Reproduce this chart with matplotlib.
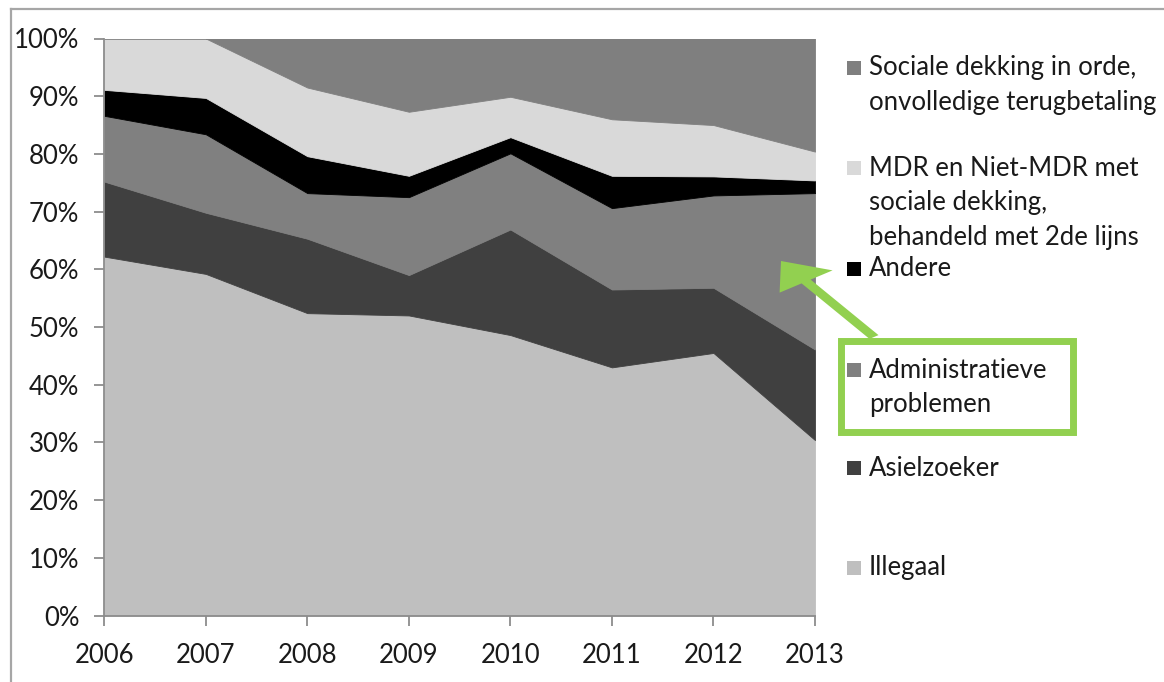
import matplotlib
matplotlib.use("Agg")
import matplotlib.pyplot as plt
from matplotlib.patches import Rectangle, FancyArrow
from matplotlib.lines import Line2D
from matplotlib.ticker import FuncFormatter

# Share of patients per category (%), 2006-2013
years = [2006, 2007, 2008, 2009, 2010, 2011, 2012, 2013]
illegaal = [62.2, 59.2, 52.4, 52.0, 48.6, 43.0, 45.5, 30.4]
asielzoeker = [13.0, 10.6, 12.9, 7.0, 18.3, 13.5, 11.3, 15.7]
administratief = [11.4, 13.6, 7.9, 13.5, 13.2, 14.1, 16.0, 27.1]
andere = [4.5, 6.3, 6.4, 3.7, 2.8, 5.6, 3.3, 2.2]
mdr = [8.9, 10.3, 11.9, 11.1, 7.0, 9.8, 8.9, 5.0]
sociale = [0.0, 0.0, 8.5, 12.7, 10.1, 14.0, 15.0, 19.6]

series_labels = [
    "Illegaal",
    "Asielzoeker",
    "Administratieve\nproblemen",
    "Andere",
    "MDR en Niet-MDR met\nsociale dekking,\nbehandeld met 2de lijns",
    "Sociale dekking in orde,\nonvolledige terugbetaling",
]
series_colors = ["#bfbfbf", "#404040", "#808080", "#000000", "#d9d9d9", "#7f7f7f"]

W, H = 1164, 682
FS = 18.5
plt.rcParams["font.family"] = ["Lato", "DejaVu Sans"]

fig = plt.figure(figsize=(W / 100, H / 100), dpi=100)


def fx(x):
    return x / W


def fy(y):
    return 1 - y / H


ax = fig.add_axes([fx(104.3), fy(615.5), fx(815) - fx(104.3), fy(38.5) - fy(615.5)])

values = [illegaal, asielzoeker, administratief, andere, mdr, sociale]
polys = ax.stackplot(years, *values, colors=series_colors)
for p, c in zip(polys, series_colors):
    p.set_edgecolor(c)
    p.set_linewidth(0.6)

ax.set_xlim(years[0], years[-1])
ax.set_ylim(0, 100)
ax.set_xticks(years)
ax.set_yticks(range(0, 101, 10))
ax.yaxis.set_major_formatter(FuncFormatter(lambda v, _: f"{int(v)}%"))

spine_col = "#8c8c8c"
for side in ("top", "right"):
    ax.spines[side].set_visible(False)
for side in ("left", "bottom"):
    ax.spines[side].set_color(spine_col)
    ax.spines[side].set_linewidth(1.3)
ax.tick_params(axis="both", colors=spine_col, labelcolor="#1a1a1a",
               labelsize=FS, length=7, width=1.3, direction="out")
ax.tick_params(axis="y", pad=11)
ax.tick_params(axis="x", pad=13)

# Outer frame lines
fig.add_artist(Line2D([fx(11), 1.0], [fy(9), fy(9)], color="#a6a6a6", lw=1.6))
fig.add_artist(Line2D([fx(11), fx(11)], [fy(9), 0.0], color="#a6a6a6", lw=1.6))

# Legend, drawn top to bottom in reverse stacking order
legend_rows = [
    (5, 68),
    (4, 168),
    (3, 269),
    (2, 370),
    (1, 468),
    (0, 568),
]
line_step = 34.5
sq = 14
for idx, yc in legend_rows:
    fig.add_artist(Rectangle((fx(847), fy(yc + sq / 2)), sq / W, sq / H,
                             facecolor=series_colors[idx], edgecolor="none"))
    for k, line in enumerate(series_labels[idx].split("\n")):
        fig.text(fx(869), fy(yc + k * line_step), line, fontsize=FS,
                 color="#1a1a1a", va="center", ha="left")

# Highlight box around "Administratieve problemen"
green = "#92d050"
fig.add_artist(Rectangle((fx(840.5), fy(432)), (1073 - 840.5) / W, (432 - 341) / H,
                         facecolor="none", edgecolor=green, linewidth=5))

# Arrow pointing into the administrative-problems area
x0, y0 = 874, 337
x1, y1 = 781, 261
fig.add_artist(FancyArrow(fx(x0), fy(y0), fx(x1) - fx(x0), fy(y1) - fy(y0),
                          width=0.0095, head_width=0.056, head_length=0.037,
                          length_includes_head=True, color=green, lw=0,
                          transform=fig.transFigure))

fig.savefig("out.png", dpi=100)
